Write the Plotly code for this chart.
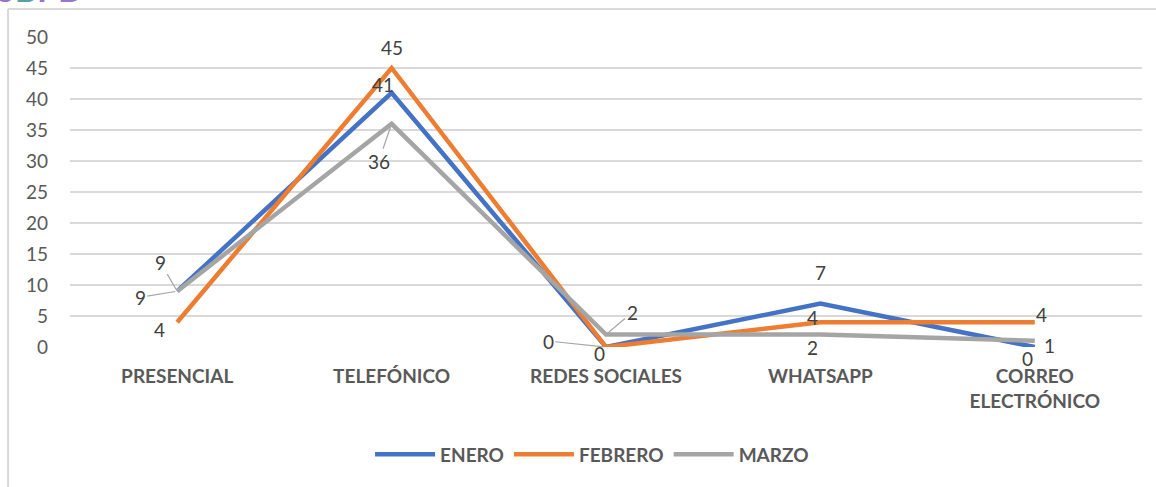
import plotly.graph_objects as go

categories = ["PRESENCIAL", "TELEFÓNICO", "REDES SOCIALES", "WHATSAPP", "CORREO<br>ELECTRÓNICO"]
enero = [9, 41, 0, 7, 0]
febrero = [4, 45, 0, 4, 4]
marzo = [9, 36, 2, 2, 1]
y_ticks = [0, 5, 10, 15, 20, 25, 30, 35, 40, 45, 50]

series = [("ENERO", enero, "#4472C4"), ("FEBRERO", febrero, "#ED7D31"), ("MARZO", marzo, "#A5A5A5")]

FONT = "Lato, 'Open Sans', sans-serif"
LABEL_COLOR = "#404040"
AXIS_COLOR = "#595959"

fig = go.Figure()
for name, vals, color in series:
    fig.add_trace(go.Scatter(
        x=categories, y=vals, mode="lines", name=name,
        line=dict(color=color, width=4.5),
    ))

# label placement offsets (pixels): (series index, category index, dx, dy, leader)
label_offsets = [
    (0, 0, -17, -29, True), (2, 0, -37, 6, True), (1, 0, -18, 7, False),
    (1, 1, 0, -21, False), (0, 1, -9, -8, False), (2, 1, -13, 38, True),
    (2, 2, 26, -22, True), (0, 2, -58, -6, True), (1, 2, -7, 6, False),
    (0, 3, 0, -31, False), (1, 3, -8, -5, False), (2, 3, -8, 13, False),
    (1, 4, 7, -8, False), (0, 4, -7, 11, False), (2, 4, 15, 5, False),
]
for si, ci, dx, dy, leader in label_offsets:
    val = series[si][1][ci]
    if leader:
        fig.add_annotation(
            x=categories[ci], y=val, text=str(val), showarrow=True,
            ax=dx, ay=dy, arrowhead=0, arrowwidth=1.2, arrowcolor="#A6A6A6",
            standoff=2, font=dict(family=FONT, size=19, color=LABEL_COLOR),
        )
    else:
        fig.add_annotation(
            x=categories[ci], y=val, text=str(val), showarrow=False,
            xshift=dx, yshift=-dy, font=dict(family=FONT, size=19, color=LABEL_COLOR),
        )

# partial logo text at top-left, clipped by page edge
fig.add_annotation(
    xref="paper", yref="paper", x=-0.0709, y=1.0845, xanchor="left", yanchor="bottom",
    text="<b><span style='color:#9676C6'>S</span><span style='color:#5AA0A6'>B</span>"
         "<span style='color:#9676C6'>PD</span></b>",
    showarrow=False, font=dict(family=FONT, size=34),
)

# frame lines (top and left)
fig.add_shape(type="line", xref="paper", yref="paper", x0=-0.0578, x1=1.02, y0=1.0903, y1=1.0903,
              line=dict(color="#D9D9D9", width=2))
fig.add_shape(type="line", xref="paper", yref="paper", x0=-0.0578, x1=-0.0578, y0=1.0903, y1=-0.46,
              line=dict(color="#D9D9D9", width=2))

fig.update_layout(
    width=1156, height=487,
    margin=dict(l=70, r=14, t=37, b=140),
    paper_bgcolor="white", plot_bgcolor="white",
    font=dict(family=FONT, color=AXIS_COLOR),
    showlegend=True,
    legend=dict(orientation="h", x=0.487, xanchor="center", y=-0.285, yanchor="top",
                font=dict(family=FONT, size=19, color=AXIS_COLOR, weight="bold"), itemwidth=60,
                traceorder="normal"),
    xaxis=dict(
        range=[-0.5, 4.5],
        showgrid=False, showline=False, zeroline=False, ticks="",
        tickfont=dict(family=FONT, size=19, color=AXIS_COLOR, weight="bold"),
        ticklabelstandoff=16,
    ),
    yaxis=dict(
        range=[0, 50], tickvals=y_ticks, showgrid=True, gridcolor="#D9D9D9", gridwidth=2,
        zeroline=False, showline=False, ticks="",
        tickfont=dict(family=FONT, size=19, color=AXIS_COLOR),
        ticklabelstandoff=21,
    ),
)

fig.write_html("out.html", config={"displayModeBar": False},
               post_script="document.body.style.margin='0';")
